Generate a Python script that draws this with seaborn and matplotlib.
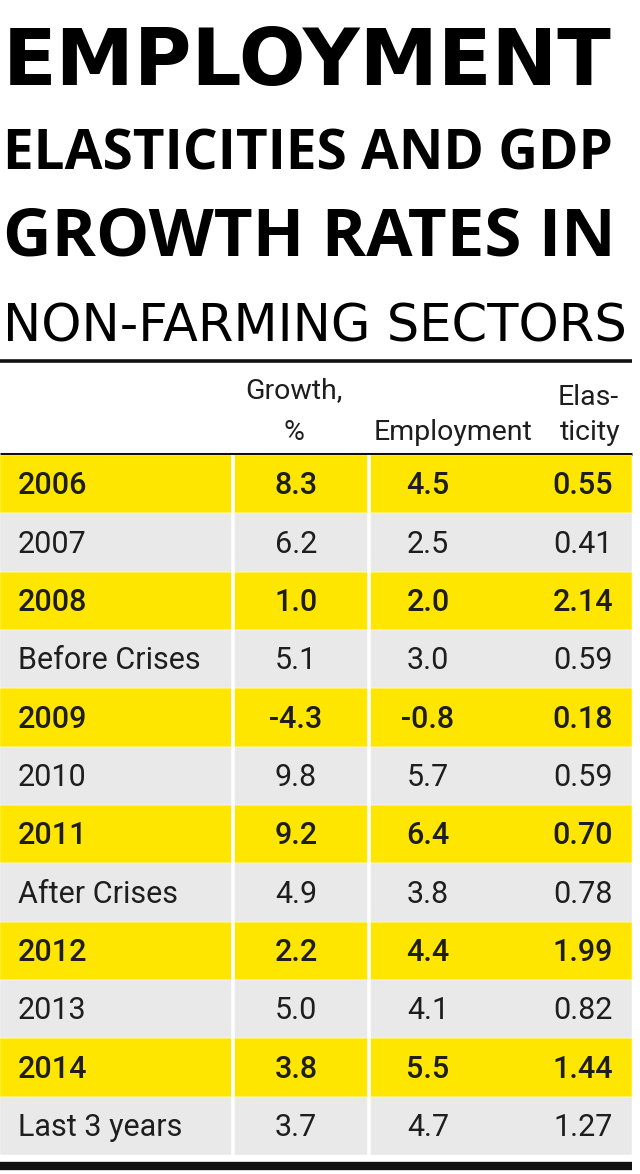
import matplotlib
matplotlib.use("Agg")
import matplotlib.pyplot as plt
import seaborn as sns
import pandas as pd

# table content
row_labels = ['2006', '2007', '2008', 'Before Crises', '2009', '2010', '2011',
              'After Crises', '2012', '2013', '2014', 'Last 3 years']
growth = [8.3, 6.2, 1.0, 5.1, -4.3, 9.8, 9.2, 4.9, 2.2, 5.0, 3.8, 3.7]
employment = [4.5, 2.5, 2.0, 3.0, -0.8, 5.7, 6.4, 3.8, 4.4, 4.1, 5.5, 4.7]
elasticity = [0.55, 0.41, 2.14, 0.59, 0.18, 0.59, 0.70, 0.78, 1.99, 0.82, 1.44, 1.27]
title_lines = ['EMPLOYMENT', 'ELASTICITIES AND GDP', 'GROWTH RATES IN', 'NON-FARMING SECTORS']

W, H = 640, 1174
YELLOW = '#ffe600'
GREY = '#e9e9e9'
INK = '#1e1e1e'
BODY_FONT = 'Roboto'

sns.set_style('white')

fig = plt.figure(figsize=(W / 100, H / 100), dpi=100)
fig.patch.set_facecolor('white')

# full-figure axes in pixel coords for title, header and rules
over = fig.add_axes([0, 0, 1, 1])
over.set_xlim(0, W)
over.set_ylim(H, 0)
over.axis('off')

renderer = fig.canvas.get_renderer()


def fit(t, width):
    bb = t.get_window_extent(renderer)
    t.set_fontsize(t.get_fontsize() * width / bb.width)


# title (baseline y, weight, family, target width)
specs = [(85, 'bold', 'DejaVu Sans', 608),
         (170, 'bold', 'Open Sans', 610),
         (255, 'bold', 'Open Sans', 612),
         (342, 'normal', 'Liberation Sans Narrow', 624)]
for line, (base, wt, fam, wd) in zip(title_lines, specs):
    t = over.text(3, base, line, fontsize=40, fontweight=wt, family=fam,
                  color='black', va='baseline', ha='left')
    fit(t, wd)

# rules
over.plot([0, 632], [361, 361], color='#111111', lw=2.6, solid_capstyle='butt')
over.plot([0, 632], [454, 454], color='#111111', lw=2.2, solid_capstyle='butt')
over.plot([0, 632], [1166, 1166], color='#111111', lw=6.0, solid_capstyle='butt')

# column headers
hkw = dict(family=BODY_FONT, fontsize=20.5, color=INK, va='baseline')
over.text(294, 398, 'Growth,', ha='center', **hkw)
over.text(294, 440, '%', ha='center', **hkw)
over.text(453, 440, 'Employment', ha='center', **hkw)
over.text(619, 405, 'Elas-', ha='right', **hkw)
over.text(620, 440, 'ticity', ha='right', **hkw)

# table body
top, bottom = 455, 1155
body = fig.add_axes([0, 1 - bottom / H, 1, (bottom - top) / H])
df = pd.DataFrame({'row': row_labels,
                   'span': [632] * len(row_labels),
                   'band': ['hi' if i % 2 == 0 else 'lo' for i in range(len(row_labels))]})
sns.barplot(data=df, x='span', y='row', hue='band', order=row_labels,
            palette={'hi': YELLOW, 'lo': GREY}, width=1.0, dodge=False,
            saturation=1, edgecolor='white', linewidth=0.3, legend=False, ax=body)
body.set_xlim(0, W)
body.set_ylim(len(row_labels) - 0.5, -0.5)
body.vlines([233, 369], -0.5, len(row_labels) - 0.5, color='white', lw=2.6)
body.axis('off')

for i, lab in enumerate(row_labels):
    wt = 'medium' if i % 2 == 0 else 'normal'
    kw = dict(family=BODY_FONT, fontsize=22, color=INK, va='center', fontweight=wt)
    body.text(18, i + 0.03, lab, ha='left', **kw)
    body.text(296, i + 0.03, f'{growth[i]:.1f}', ha='center', **kw)
    body.text(428, i + 0.03, f'{employment[i]:.1f}', ha='center', **kw)
    body.text(613, i + 0.03, f'{elasticity[i]:.2f}', ha='right', **kw)

fig.savefig('out.png', dpi=100, facecolor='white')
